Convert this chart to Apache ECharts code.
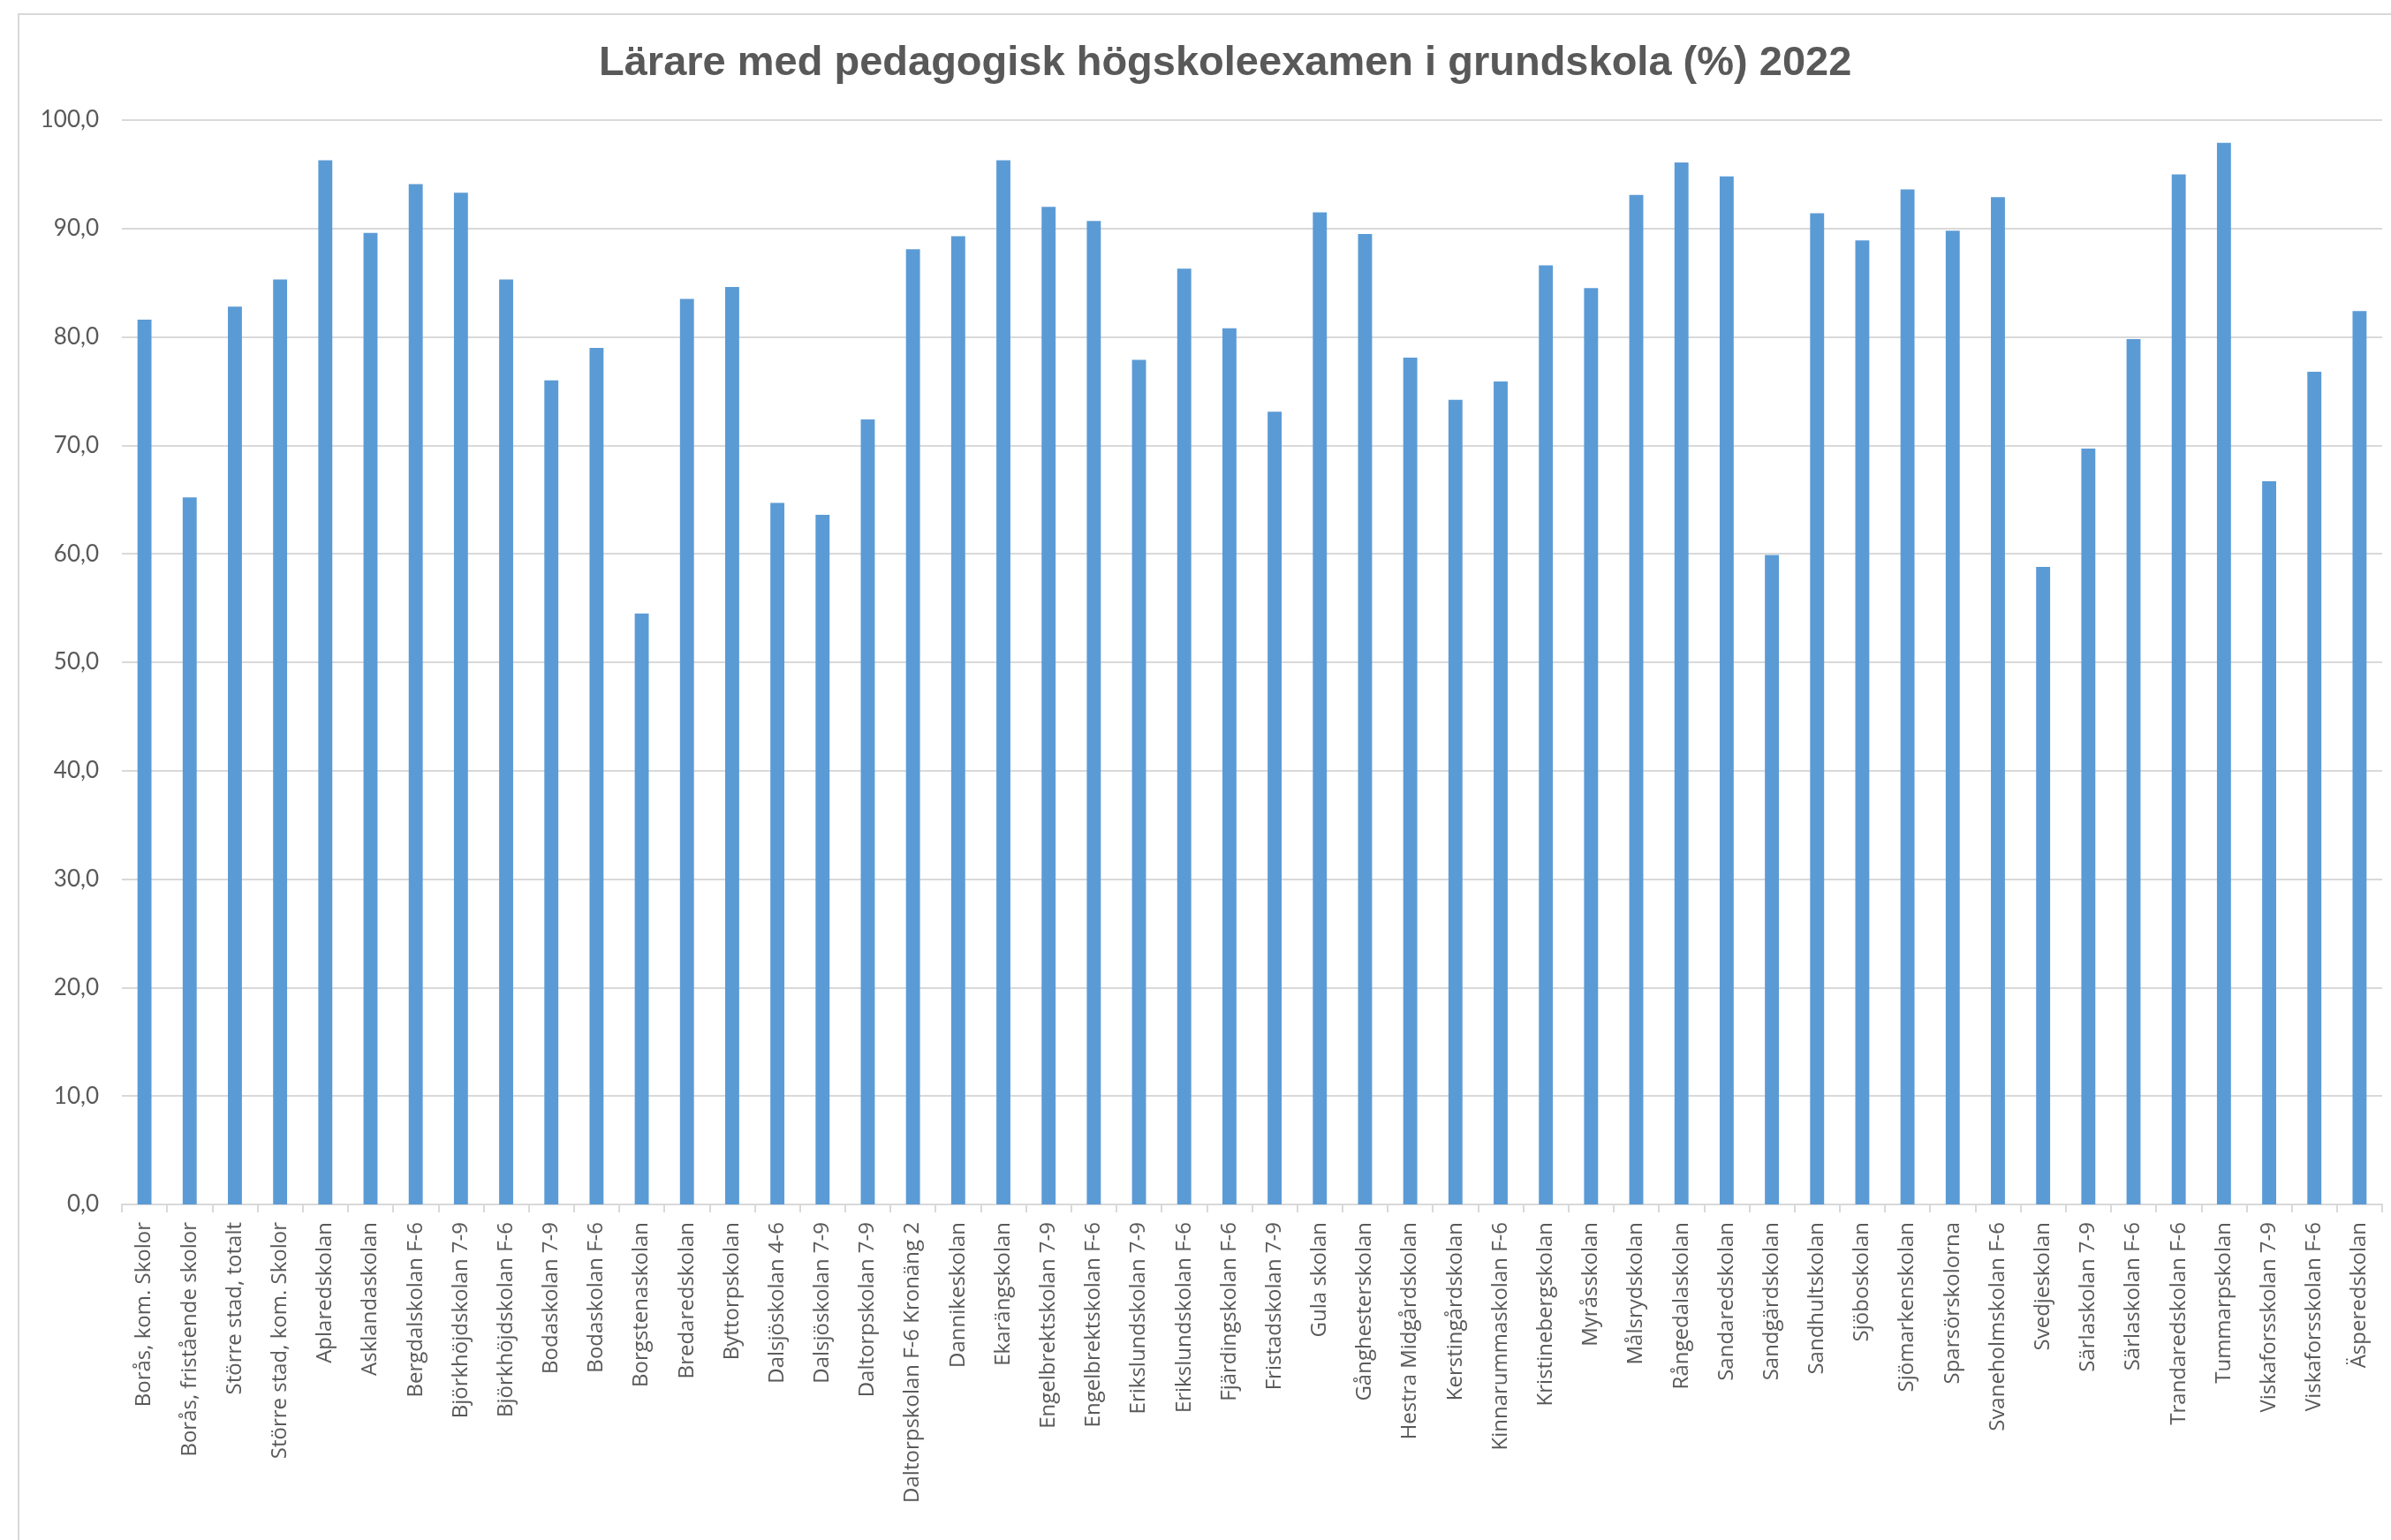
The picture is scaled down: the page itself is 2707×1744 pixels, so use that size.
<!DOCTYPE html>
<html>
<head>
<meta charset="utf-8">
<script src="https://cdn.jsdelivr.net/npm/echarts@6/dist/echarts.min.js"></script>
<style>
  html, body { margin: 0; padding: 0; background: #ffffff; }
  #frame { position: absolute; left: 20px; top: 15px; width: 2700px; height: 1740px; border: 2px solid #d9d9d9; box-sizing: border-box; }
  #main { position: absolute; left: 0; top: 0; width: 2707px; height: 1744px; }
</style>
</head>
<body>
<div id="frame"></div>
<div id="main"></div>
<script>
// skolor
var schools = [
  'Borås, kom. Skolor', 'Borås, fristående skolor', 'Större stad, totalt', 'Större stad, kom. Skolor',
  'Aplaredskolan', 'Asklandaskolan', 'Bergdalskolan F-6', 'Björkhöjdskolan 7-9', 'Björkhöjdskolan F-6',
  'Bodaskolan 7-9', 'Bodaskolan F-6', 'Borgstenaskolan', 'Bredaredskolan', 'Byttorpskolan',
  'Dalsjöskolan 4-6', 'Dalsjöskolan 7-9', 'Daltorpskolan 7-9', 'Daltorpskolan F-6 Kronäng 2',
  'Dannikeskolan', 'Ekarängskolan', 'Engelbrektskolan 7-9', 'Engelbrektskolan F-6',
  'Erikslundskolan 7-9', 'Erikslundskolan F-6', 'Fjärdingskolan F-6', 'Fristadskolan 7-9',
  'Gula skolan', 'Gånghesterskolan', 'Hestra Midgårdskolan', 'Kerstingårdskolan',
  'Kinnarummaskolan F-6', 'Kristinebergskolan', 'Myråsskolan', 'Målsrydskolan', 'Rångedalaskolan',
  'Sandaredskolan', 'Sandgärdskolan', 'Sandhultskolan', 'Sjöboskolan', 'Sjömarkenskolan',
  'Sparsörskolorna', 'Svaneholmskolan F-6', 'Svedjeskolan', 'Särlaskolan 7-9', 'Särlaskolan F-6',
  'Trandaredskolan F-6', 'Tummarpskolan', 'Viskaforsskolan 7-9', 'Viskaforsskolan F-6', 'Äsperedskolan'
];
// andel lärare med examen (%)
var andel = [
  81.6, 65.2, 82.8, 85.3, 96.3, 89.6, 94.1, 93.3, 85.3, 76.0,
  79.0, 54.5, 83.5, 84.6, 64.7, 63.6, 72.4, 88.1, 89.3, 96.3,
  92.0, 90.7, 77.9, 86.3, 80.8, 73.1, 91.5, 89.5, 78.1, 74.2,
  75.9, 86.6, 84.5, 93.1, 96.1, 94.8, 59.9, 91.4, 88.9, 93.6,
  89.8, 92.9, 58.8, 69.7, 79.8, 95.0, 97.9, 66.7, 76.8, 82.4
];

var chart = echarts.init(document.getElementById('main'), null, { renderer: 'canvas' });
var option = {
  backgroundColor: 'transparent',
  animation: false,
  title: {
    text: 'Lärare med pedagogisk högskoleexamen i grundskola (%) 2022',
    left: 678,
    top: 49,
    padding: 0,
    textStyle: {
      fontFamily: 'Liberation Sans',
      fontWeight: 'bold',
      fontSize: 47,
      color: '#595959'
    }
  },
  grid: {
    left: 138,
    right: 10,
    top: 136,
    bottom: 380,
    outerBoundsMode: 'none'
  },
  xAxis: {
    type: 'category',
    data: schools,
    axisLine: { lineStyle: { color: '#d9d9d9', width: 2 } },
    axisTick: { show: true, length: 9, lineStyle: { color: '#d9d9d9', width: 2 } },
    axisLabel: {
      rotate: 90,
      interval: 0,
      margin: 20,
      fontFamily: 'Open Sans',
      fontSize: 24,
      color: '#595959'
    }
  },
  yAxis: {
    type: 'value',
    min: 0,
    max: 100,
    interval: 10,
    axisLine: { show: false },
    axisTick: { show: false },
    splitLine: { lineStyle: { color: '#d9d9d9', width: 2 } },
    axisLabel: {
      margin: 26,
      fontFamily: 'Lato',
      fontSize: 26,
      color: '#595959',
      formatter: function (v) { return v.toFixed(1).replace('.', ','); }
    }
  },
  series: [{
    type: 'bar',
    data: andel,
    barWidth: '31%',
    itemStyle: { color: '#5b9bd5' }
  }]
};
chart.setOption(option);
</script>
</body>
</html>
